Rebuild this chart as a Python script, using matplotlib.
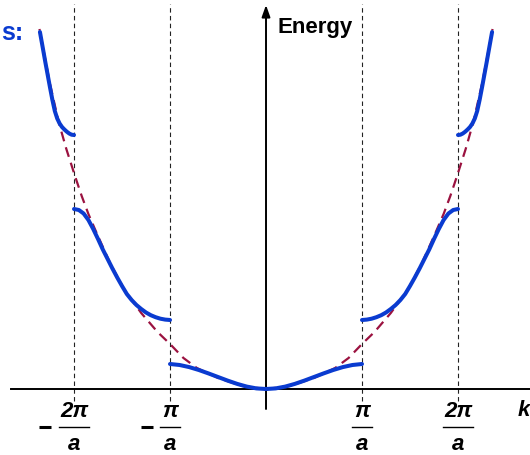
import matplotlib
matplotlib.use("Agg")
import matplotlib.pyplot as plt

# k in units of pi/a, energy in arbitrary units
# right half only, the picture is symmetric about k = 0
banda1_k = [0, 0.1, 0.2, 0.3, 0.4, 0.5, 0.6, 0.7, 0.8, 0.9, 1.0]
banda1_E = [0, 0.6, 2.4, 5.1, 8.4, 12, 15.6, 19, 21.9, 24, 25]

banda2_k = [1.0, 1.05, 1.1, 1.15, 1.2, 1.25, 1.3, 1.35, 1.4, 1.45, 1.5, 1.55, 1.6,
            1.65, 1.7, 1.75, 1.8, 1.85, 1.9, 1.95, 2.0]
banda2_E = [69, 69.4, 70.3, 71.8, 73.8, 76.5, 80, 84, 89, 95, 103, 111.5, 120.5,
            130, 139.5, 150, 160, 169, 175.5, 179, 180]

banda3_k = [2.0, 2.025, 2.05, 2.075, 2.1, 2.125, 2.15, 2.175, 2.2, 2.225, 2.25,
            2.275, 2.3, 2.325, 2.355]
banda3_E = [254, 254.3, 255.5, 257.3, 259.5, 262, 265.5, 270.5, 278, 289, 301.5,
            314.5, 327.5, 341, 357]

# electron libre (parabola discontinua)
libre_k = [0, 0.25, 0.5, 0.72, 0.86, 1.0, 1.13, 1.3, 1.48, 1.62, 1.76, 1.85, 1.92,
           1.99, 2.08, 2.16, 2.25, 2.36]
libre_E = [0, 3, 11, 21, 31, 45, 57, 76, 100, 125, 155, 175, 193,
           213, 240, 267, 305, 360]

bordes_zona = [-2, -1, 1, 2]
etiquetas_num = ["2π", "π", "π", "2π"]
signos = [True, True, False, False]

AZUL = "#0a3bd0"
ROJO = "#9b1240"

fig = plt.figure(figsize=(5.30, 4.56), dpi=100)
ax = fig.add_axes([0, 0, 1, 1])
ax.set_xlim(-2.771, 2.75)
ax.set_ylim(-66, 390)
ax.axis("off")

# bordes de zona
for kb in bordes_zona:
    ax.plot([kb, kb], [-12, 385], color="#222222", lw=0.8, dashes=(4, 3), zorder=1)

# ejes
ax.plot([-2.66, 2.8], [0, 0], color="black", lw=1.4, zorder=2)
ax.annotate("", xy=(0, 384), xytext=(0, -20),
            arrowprops=dict(arrowstyle="-|>,head_length=0.7,head_width=0.25",
                            color="black", lw=1.4, shrinkA=0, shrinkB=0), zorder=2)
ax.text(0.12, 363, "Energy", fontsize=16, fontweight="bold", family="Liberation Sans",
        ha="left", va="center")

# parabola libre
for s in (1, -1):
    ax.plot([s * k for k in libre_k], libre_E, color=ROJO, lw=1.6, dashes=(4.5, 2.8),
            zorder=3)

# bandas
for bk, bE in [(banda1_k, banda1_E), (banda2_k, banda2_E), (banda3_k, banda3_E)]:
    for s in (1, -1):
        ax.plot([s * k for k in bk], bE, color=AZUL, lw=2.9,
                solid_capstyle="round", solid_joinstyle="round", zorder=4)

# etiquetas del eje k (fracciones)
tr = ax.get_xaxis_transform()
y_num = 1 - 412 / 456
y_bar = 1 - 428 / 456
y_den = 1 - 445 / 456
for kb, num, neg in zip(bordes_zona, etiquetas_num, signos):
    ax.text(kb, y_num, num, transform=tr, ha="center", va="center", fontsize=16,
            fontweight="bold", fontstyle="italic", family="Liberation Sans")
    ax.text(kb, y_den, "a", transform=tr, ha="center", va="center", fontsize=16,
            fontweight="bold", fontstyle="italic", family="Liberation Sans")
    ancho = 0.16 if len(num) == 2 else 0.1
    ax.plot([kb - ancho, kb + ancho], [y_bar, y_bar], transform=tr, color="black", lw=1.0)
    if neg:
        # signo menos como trazo grueso
        c = kb - ancho - 0.14
        ax.plot([c - 0.065, c + 0.065], [y_bar, y_bar], transform=tr, color="black",
                lw=2.2, solid_capstyle="butt")

ax.text(2.75, 1 - 411 / 456, "k", transform=tr, ha="right", va="center", fontsize=16,
        fontweight="bold", fontstyle="italic", family="Liberation Sans")
fig.text(1 / 530, 1 - 33 / 456, "s:", color=AZUL, fontsize=18, fontweight="bold",
         family="Liberation Sans", ha="left", va="center")

fig.savefig("out.png", dpi=100)
